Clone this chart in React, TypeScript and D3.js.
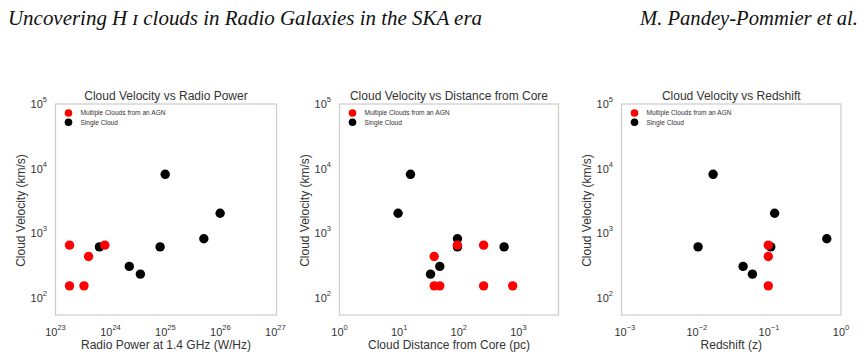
import React from "react";
import * as d3 from "d3";

// Panel 1: Radio power (W/Hz) vs velocity (km/s)
const p1MultiX = [1.8e23, 4.0e23, 1.8e23, 3.3e23, 7.9e23];
const p1MultiY = [660, 440, 155, 155, 660];
const p1SingleX = [6.3e23, 9.9e24, 9.9e25, 5.0e25, 8.0e24, 2.2e24, 3.5e24];
const p1SingleY = [620, 8200, 2050, 830, 620, 310, 235];

// Panel 2: Distance from core (pc)
const p2MultiX = [95, 261, 38.7, 38.7, 48, 261, 802];
const p2MultiY = [660, 660, 440, 155, 155, 155, 155];
const p2SingleX = [15.5, 9.6, 95, 95, 575, 48, 33.6];
const p2SingleY = [8200, 2050, 830, 620, 620, 310, 235];

// Panel 3: Redshift
const p3MultiX = [0.098, 0.098, 0.098];
const p3MultiY = [660, 440, 155];
const p3SingleX = [0.0168, 0.12, 0.635, 0.0104, 0.106, 0.0438, 0.059];
const p3SingleY = [8200, 2050, 830, 620, 620, 310, 235];

const yTicks = [2, 3, 4, 5];
const yDomain: [number, number] = [55, 1e5];

const legendLabels = ["Multiple Clouds from an AGN", "Single Cloud"];
const seriesColors = ["#ff0000", "#000000"];

const panels = [
  {
    title: "Cloud Velocity vs Radio Power",
    xlabel: "Radio Power at 1.4 GHz (W/Hz)",
    left: 55.5,
    right: 276.5,
    xDomain: [1e23, 1.05e27] as [number, number],
    xTicks: [23, 24, 25, 26, 27],
    multiX: p1MultiX, multiY: p1MultiY, singleX: p1SingleX, singleY: p1SingleY,
  },
  {
    title: "Cloud Velocity vs Distance from Core",
    xlabel: "Cloud Distance from Core (pc)",
    left: 339.5,
    right: 558.5,
    xDomain: [1, 4700] as [number, number],
    xTicks: [0, 1, 2, 3],
    multiX: p2MultiX, multiY: p2MultiY, singleX: p2SingleX, singleY: p2SingleY,
  },
  {
    title: "Cloud Velocity vs Redshift",
    xlabel: "Redshift (z)",
    left: 621.5,
    right: 841,
    xDomain: [9e-4, 1] as [number, number],
    xTicks: [-3, -2, -1, 0],
    multiX: p3MultiX, multiY: p3MultiY, singleX: p3SingleX, singleY: p3SingleY,
  },
];

const TOP = 104;
const BOTTOM = 315;
const FONT = "'Liberation Sans', Arial, sans-serif";
const TXT = "#333333";

function Pow({ x, y, exp, anchor }: { x: number; y: number; exp: number; anchor: string }) {
  return (
    <text x={x} y={y} textAnchor={anchor} fontFamily={FONT} fontSize={11} fill={TXT}>
      10
      <tspan fontSize={7.5} dy={-6}>{String(exp).replace("-", "\u2212")}</tspan>
    </text>
  );
}

function Panel({ p }: { p: (typeof panels)[number] }) {
  const x = d3.scaleLog().domain(p.xDomain).range([p.left, p.right]);
  const y = d3.scaleLog().domain(yDomain).range([BOTTOM, TOP]);
  const cx = (p.left + p.right) / 2;
  const cy = (TOP + BOTTOM) / 2;
  const multi = d3.zip(p.multiX, p.multiY);
  const single = d3.zip(p.singleX, p.singleY);
  return (
    <g>
      <rect x={p.left} y={TOP} width={p.right - p.left} height={BOTTOM - TOP} fill="#fff" stroke="#cccccc" strokeWidth={1.2} />
      <text x={cx} y={100} textAnchor="middle" fontFamily={FONT} fontSize={12} fill={TXT}>{p.title}</text>
      {p.xTicks.map((e) => (
        <Pow key={"x" + e} x={x(Math.pow(10, e))} y={336} exp={e} anchor="middle" />
      ))}
      {yTicks.map((e) => (
        <Pow key={"y" + e} x={p.left - 8.5} y={y(Math.pow(10, e)) + 4} exp={e} anchor="end" />
      ))}
      <text x={cx} y={349} textAnchor="middle" fontFamily={FONT} fontSize={12} fill={TXT}>{p.xlabel}</text>
      <text transform={`translate(${p.left - 31},${cy + 1}) rotate(-90)`} textAnchor="middle" fontFamily={FONT} fontSize={12} fill={TXT}>
        Cloud Velocity (km/s)
      </text>
      {single.map((d, i) => (
        <circle key={"s" + i} cx={x(d[0])} cy={y(d[1])} r={4.7} fill={seriesColors[1]} />
      ))}
      {multi.map((d, i) => (
        <circle key={"m" + i} cx={x(d[0])} cy={y(d[1])} r={4.7} fill={seriesColors[0]} />
      ))}
      {legendLabels.map((l, i) => (
        <g key={l}>
          <circle cx={p.left + 13} cy={113 + i * 9.3} r={3.8} fill={seriesColors[i]} />
          <text x={p.left + 25} y={115.3 + i * 9.3} fontFamily={FONT} fontSize={6.6} fill={TXT}>{l}</text>
        </g>
      ))}
    </g>
  );
}

export default function App() {
  return (
    <svg width={866} height={358} style={{ position: "absolute", left: 0, top: 0, background: "#fff" }}>
      <rect width={866} height={358} fill="#fff" />
      <text x={8} y={25} fontFamily="'Liberation Serif', 'Times New Roman', serif" fontStyle="italic" fontSize={20} fill="#111" textLength={474} lengthAdjust="spacingAndGlyphs">
        {"Uncovering H \u026A clouds in Radio Galaxies in the SKA era"}
      </text>
      <text x={640} y={25} fontFamily="'Liberation Serif', 'Times New Roman', serif" fontStyle="italic" fontSize={20} fill="#111" textLength={218} lengthAdjust="spacingAndGlyphs">
        M. Pandey-Pommier et al.
      </text>
      {panels.map((p) => (
        <Panel key={p.title} p={p} />
      ))}
    </svg>
  );
}
